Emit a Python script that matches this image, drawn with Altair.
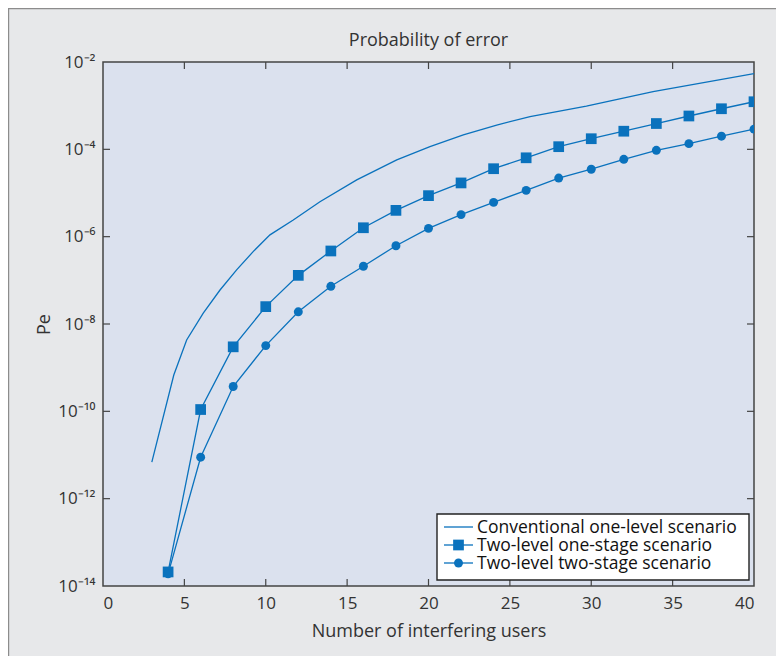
import altair as alt
import pandas as pd

# ---- data ----
series_names = [
    "Conventional one-level scenario",
    "Two-level one-stage scenario",
    "Two-level two-stage scenario",
]
conv_users = [3, 4.35, 5.14, 6.16, 7.19, 8.21, 9.24, 10.26, 11.69, 13.33, 15.59,
              18.05, 20.09, 22.14, 24.19, 26.24, 29.7, 33.8, 40]
conv_pe = [6.9e-12, 6.8e-10, 4.3e-9, 1.78e-8, 6.0e-8, 1.74e-7, 4.6e-7, 1.1e-6,
           2.4e-6, 6.3e-6, 2.0e-5, 5.75e-5, 1.15e-4, 2.14e-4, 3.6e-4, 5.6e-4,
           9.8e-4, 2.1e-3, 5.4e-3]
marker_users = [4, 6, 8, 10, 12, 14, 16, 18, 20, 22, 24, 26, 28, 30, 32, 34, 36, 38, 40]
one_stage_pe = [2.1e-14, 1.1e-10, 3.0e-9, 2.5e-8, 1.3e-7, 4.7e-7, 1.6e-6, 4.0e-6,
                8.7e-6, 1.7e-5, 3.6e-5, 6.4e-5, 1.15e-4, 1.75e-4, 2.6e-4, 3.9e-4,
                5.8e-4, 8.5e-4, 1.23e-3]
two_stage_pe = [1.9e-14, 8.9e-12, 3.7e-10, 3.2e-9, 1.9e-8, 7.3e-8, 2.1e-7, 6.2e-7,
                1.55e-6, 3.2e-6, 6.1e-6, 1.15e-5, 2.2e-5, 3.5e-5, 5.9e-5, 9.5e-5,
                1.35e-4, 2.0e-4, 2.9e-4]
series_shapes = [None, "square", "circle"]
x_label_values = [0, 5, 10, 15, 20, 25, 30, 35, 40]
x_tick_values = [5, 10, 15, 20, 25, 30, 35]
y_label_values = [1e-14, 1e-12, 1e-10, 1e-8, 1e-6, 1e-4, 1e-2]
y_tick_values = [1e-12, 1e-10, 1e-8, 1e-6, 1e-4]

BLUE = "#0a72bd"
TEXT = "#333333"
FONT = "Open Sans"
W, H = 651, 524

conv = pd.DataFrame({"users": conv_users, "pe": conv_pe, "series": series_names[0]})
one = pd.DataFrame({"users": marker_users, "pe": one_stage_pe, "series": series_names[1]})
two = pd.DataFrame({"users": marker_users, "pe": two_stage_pe, "series": series_names[2]})
all_lines = pd.concat([conv, one, two], ignore_index=True)
markers = pd.concat([one, two], ignore_index=True)

x_scale = alt.Scale(domain=[0, 40], nice=False, zero=False)
y_scale = alt.Scale(type="log", domain=[1e-14, 1e-2], nice=False)

label_expr = ("'10' + replace(replace(replace(replace(replace(replace(replace("
              "'' + round(log(datum.value)/LN10), '-', '⁻'), '1', '¹'), '2', '²'),"
              " '4', '⁴'), '6', '⁶'), '8', '⁸'), '0', '⁰')")

x_enc = alt.X("users:Q", scale=x_scale,
              axis=alt.Axis(values=x_label_values, title="Number of interfering users",
                            ticks=False, domain=False, grid=False, labelPadding=9,
                            labelFlush=True, titlePadding=11))
y_enc = alt.Y("pe:Q", scale=y_scale,
              axis=alt.Axis(values=y_label_values, labelExpr=label_expr, title="Pe",
                            ticks=False, domain=False, grid=False, labelPadding=8,
                            titlePadding=4))

lines = alt.Chart(all_lines).mark_line(color=BLUE, strokeWidth=1.3, clip=True).encode(
    x=x_enc, y=y_enc, detail="series:N")

points = alt.Chart(markers).mark_point(filled=True, color=BLUE, opacity=1, clip=True).encode(
    x="users:Q", y="pe:Q",
    shape=alt.Shape("series:N", scale=alt.Scale(domain=series_names[1:], range=["square", "circle"]),
                    legend=None),
    size=alt.Size("series:N", scale=alt.Scale(domain=series_names[1:], range=[115, 80]), legend=None),
)

# inward ticks on all four sides
ytick_df = pd.DataFrame({"pe": y_tick_values})
xtick_df = pd.DataFrame({"users": x_tick_values})
tick_color = "#444"
left_ticks = alt.Chart(ytick_df).mark_rule(color=tick_color, strokeWidth=1.2).encode(
    y="pe:Q", x=alt.value(0), x2=alt.value(7))
right_ticks = alt.Chart(ytick_df).mark_rule(color=tick_color, strokeWidth=1.2).encode(
    y="pe:Q", x=alt.value(W - 7), x2=alt.value(W))
top_ticks = alt.Chart(xtick_df).mark_rule(color=tick_color, strokeWidth=1.2).encode(
    x="users:Q", y=alt.value(0), y2=alt.value(7))
bottom_ticks = alt.Chart(xtick_df).mark_rule(color=tick_color, strokeWidth=1.2).encode(
    x="users:Q", y=alt.value(H - 7), y2=alt.value(H))

# figure border (left and top edges of the framed figure)
one_row = pd.DataFrame({"a": [0]})
border_left = alt.Chart(one_row).mark_rule(color="#8c8c8c", strokeWidth=1.6).encode(
    x=alt.value(-94.6), y=alt.value(-54), y2=alt.value(H + 80))
border_top = alt.Chart(one_row).mark_rule(color="#8c8c8c", strokeWidth=1.6).encode(
    y=alt.value(-53.6), x=alt.value(-95), x2=alt.value(W + 30))

# legend box drawn inside the plot (lower right)
LX0, LX1, LY0, LY1 = 334, 646, 452, 518
legend_layers = [
    alt.Chart(one_row).mark_rect(fill="white", stroke="#222", strokeWidth=1.4).encode(
        x=alt.value(LX0), x2=alt.value(LX1), y=alt.value(LY0), y2=alt.value(LY1))
]
for i, (name, shp) in enumerate(zip(series_names, series_shapes)):
    ry = 465 + 18 * i
    legend_layers.append(
        alt.Chart(one_row).mark_rule(color=BLUE, strokeWidth=1.3).encode(
            x=alt.value(341), x2=alt.value(370), y=alt.value(ry)))
    if shp is not None:
        legend_layers.append(
            alt.Chart(one_row).mark_point(shape=shp, filled=True, color=BLUE, opacity=1,
                                          size=115 if shp == "square" else 80).encode(
                x=alt.value(355.5), y=alt.value(ry)))
    legend_layers.append(
        alt.Chart(one_row).mark_text(text=name, align="left", baseline="middle", font=FONT,
                                     fontSize=17.5, color="#111").encode(
            x=alt.value(374), y=alt.value(ry + 1)))

chart = alt.layer(
    lines, points, left_ticks, right_ticks, top_ticks, bottom_ticks,
    border_left, border_top, *legend_layers,
).properties(
    width=W, height=H,
    autosize=alt.AutoSizeParams(type="none"),
    padding={"left": 95, "top": 54, "right": 22, "bottom": 70},
    background="#e7e8ea",
    title=alt.TitleParams("Probability of error", font=FONT, fontSize=18, fontWeight="normal",
                          color=TEXT, offset=12, anchor="middle", frame="group",
                          baseline="alphabetic", dy=69),
).configure_view(
    fill="#dbe1ee", stroke="#444", strokeWidth=1.5,
).configure_axis(
    labelFont=FONT, labelFontSize=17, labelColor=TEXT,
    titleFont=FONT, titleFontSize=18, titleColor=TEXT, titleFontWeight="normal",
)

chart.save("out.html", embed_options={"renderer": "svg", "actions": False})
